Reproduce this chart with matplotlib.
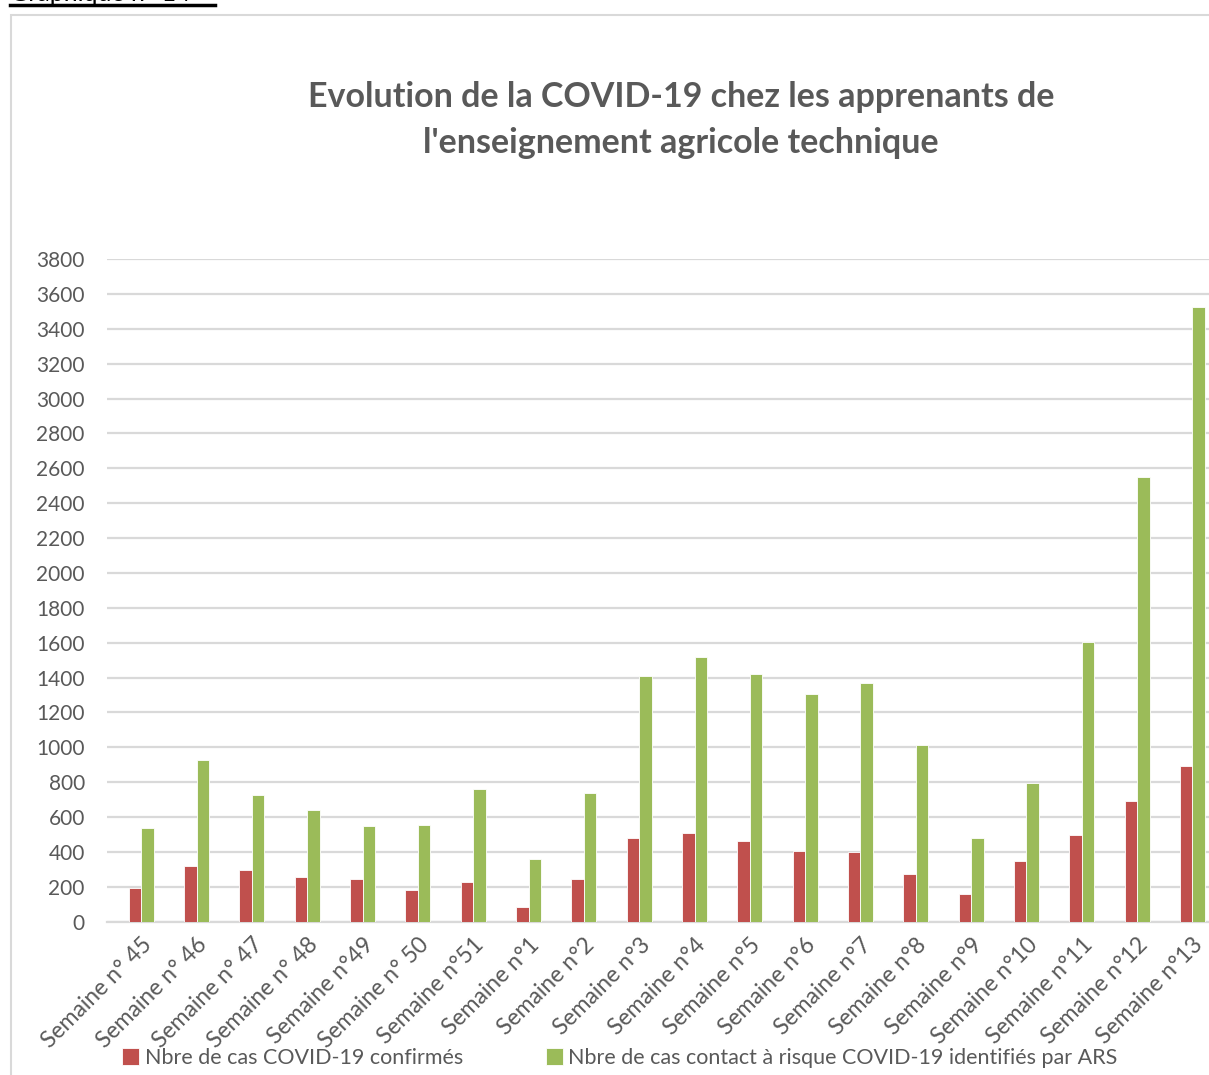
import matplotlib
matplotlib.use("Agg")
import matplotlib.pyplot as plt
from matplotlib.patches import Rectangle
from matplotlib.lines import Line2D
import numpy as np

plt.rcParams['font.family'] = ['Lato', 'DejaVu Sans']

weeks = ["Semaine n° 45", "Semaine n° 46", "Semaine n° 47", "Semaine n° 48",
         "Semaine n°49", "Semaine n° 50", "Semaine n°51", "Semaine n°1",
         "Semaine n°2", "Semaine n°3", "Semaine n°4", "Semaine n°5",
         "Semaine n°6", "Semaine n°7", "Semaine n°8", "Semaine n°9",
         "Semaine n°10", "Semaine n°11", "Semaine n°12", "Semaine n°13"]
confirmed = [192, 317, 298, 258, 244, 183, 227, 85, 246, 481, 507, 463,
             407, 400, 273, 156, 348, 498, 690, 893]
contacts = [536, 930, 728, 638, 550, 556, 759, 361, 736, 1410, 1516, 1420,
            1305, 1368, 1012, 482, 795, 1605, 2552, 3522]
yticks = list(range(0, 3801, 200))

series_labels = ["Nbre de cas COVID-19 confirmés",
                 "Nbre de cas contact à risque COVID-19 identifiés par ARS"]
title = "Evolution de la COVID-19 chez les apprenants de\nl'enseignement agricole technique"

RED = "#C0504D"
GREEN = "#9BBB59"
TXT = "#595959"
GRID = "#D9D9D9"

W, H = 1209, 1075
fig = plt.figure(figsize=(W / 100, H / 100), dpi=100)

# chart frame
fig.patches.append(Rectangle((11 / W, -0.05), 1.2, 1 - 15 / H + 0.05,
                             transform=fig.transFigure, fill=False,
                             edgecolor="#D9D9D9", linewidth=1.5))

# caption (cut off at top, as in the source)
fig.text(10 / W, 1 - 1 / H, "Graphique n° 14", fontsize=18, color="black",
         ha="left", va="baseline")
fig.lines.append(Line2D([10 / W, 215 / W], [1 - 4.5 / H, 1 - 4.5 / H],
                        transform=fig.transFigure, color="black", linewidth=2.5))

ax = fig.add_axes([107 / W, 1 - 921.7 / H, 1 - 107 / W, (921.7 - 259) / H])
x = np.arange(len(weeks))
bw = 0.225
ax.bar(x - bw / 2, confirmed, bw, color=RED, edgecolor="white", linewidth=0.6,
       label=series_labels[0], zorder=3)
ax.bar(x + bw / 2, contacts, bw, color=GREEN, edgecolor="white", linewidth=0.6,
       label=series_labels[1], zorder=3)

ax.set_ylim(0, 3800)
ax.set_xlim(-0.62, 19.30)
ax.set_yticks(yticks)
ax.set_yticklabels([str(v) for v in yticks], fontsize=15, color=TXT)
ax.yaxis.grid(True, color=GRID, linewidth=1.6, zorder=0)
ax.set_axisbelow(True)
ax.tick_params(axis="both", length=0)
ax.tick_params(axis="y", pad=16)
for s in ["top", "right", "left"]:
    ax.spines[s].set_visible(False)
ax.spines["bottom"].set_color(GRID)
ax.spines["bottom"].set_linewidth(1.6)

ax.set_xticks(x)
ax.set_xticklabels(weeks, rotation=45, ha="right", rotation_mode="anchor",
                   fontsize=16.5, color=TXT)
ax.tick_params(axis="x", pad=9)

fig.text(681 / W, 1 - 120 / H, title, ha="center", va="center",
         fontsize=24.5, fontweight="bold", color=TXT, linespacing=1.55)

leg = fig.legend(loc="center left", bbox_to_anchor=(122 / W, 1 - 1058 / H),
                 ncol=2, frameon=False, fontsize=15.5, handlelength=0.8,
                 handleheight=0.8, handletextpad=0.25, columnspacing=3.85,
                 borderaxespad=0, borderpad=0)
for t in leg.get_texts():
    t.set_color(TXT)

fig.savefig("out.png", dpi=100)
